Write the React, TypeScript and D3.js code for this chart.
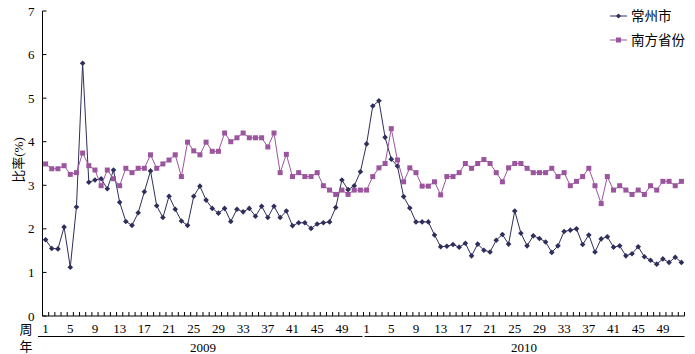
import React from "react";
import * as d3 from "d3";

const years = ["2009", "2010"];
const weekTicks = [1, 5, 9, 13, 17, 21, 25, 29, 33, 37, 41, 45, 49];
const yTicks = [0, 1, 2, 3, 4, 5, 6, 7];
const seriesNames = ["常州市", "南方省份"];

const changzhou2009 = [1.75, 1.55, 1.54, 2.04, 1.12, 2.5, 5.8, 3.07, 3.12, 3.15, 2.92, 3.35, 2.61, 2.17, 2.08, 2.37, 2.85, 3.33, 2.53, 2.26, 2.75, 2.45, 2.18, 2.08, 2.75, 2.98, 2.66, 2.47, 2.36, 2.47, 2.17, 2.45, 2.39, 2.47, 2.29, 2.52, 2.26, 2.52, 2.26, 2.41, 2.07, 2.14, 2.14, 2.01, 2.11, 2.14, 2.16, 2.49, 3.12, 2.9, 2.99, 3.31];
const changzhou2010 = [3.95, 4.82, 4.94, 4.1, 3.6, 3.44, 2.74, 2.48, 2.16, 2.16, 2.16, 1.86, 1.59, 1.6, 1.64, 1.58, 1.67, 1.38, 1.65, 1.51, 1.47, 1.74, 1.87, 1.65, 2.41, 1.9, 1.61, 1.84, 1.78, 1.7, 1.46, 1.61, 1.94, 1.97, 2.0, 1.64, 1.86, 1.47, 1.77, 1.82, 1.58, 1.61, 1.38, 1.43, 1.59, 1.36, 1.28, 1.19, 1.31, 1.23, 1.35, 1.23];
const south2009 = [3.49, 3.38, 3.38, 3.45, 3.25, 3.29, 3.74, 3.45, 3.35, 2.99, 3.35, 3.15, 2.99, 3.39, 3.29, 3.39, 3.39, 3.7, 3.39, 3.49, 3.58, 3.7, 3.2, 3.99, 3.79, 3.7, 3.99, 3.78, 3.78, 4.2, 4.0, 4.09, 4.2, 4.09, 4.09, 4.09, 3.88, 4.2, 3.29, 3.71, 3.2, 3.29, 3.2, 3.2, 3.29, 2.99, 2.89, 2.79, 2.89, 2.79, 2.89, 2.89];
const south2010 = [2.89, 3.2, 3.4, 3.5, 4.3, 3.58, 3.08, 3.4, 3.29, 2.98, 2.98, 3.08, 2.78, 3.2, 3.2, 3.29, 3.5, 3.39, 3.5, 3.59, 3.5, 3.29, 3.08, 3.4, 3.5, 3.5, 3.39, 3.29, 3.29, 3.29, 3.39, 3.2, 3.29, 2.99, 3.09, 3.2, 3.39, 2.99, 2.58, 3.2, 2.89, 2.99, 2.89, 2.79, 2.89, 2.79, 2.99, 2.89, 3.09, 3.09, 2.99, 3.09];

const DARK = "#2E2E5C";
const PURPLE = "#9B559E";
const SERIF = "'Liberation Serif', 'Times New Roman', 'Noto Sans CJK SC', serif";

const W = 695;
const H = 354;
const X0 = 42.5;
const X1 = 684.5;
const Y0 = 316;
const Y1 = 11;

export default function App() {
  const changzhou = [...changzhou2009, ...changzhou2010];
  const south = [...south2009, ...south2010];
  const n = changzhou.length;
  const idx = d3.range(n);
  const x = d3.scalePoint<number>().domain(idx).range([X0, X1]).padding(0.5);
  const step = x.step();
  const y = d3.scaleLinear().domain([0, 7]).range([Y0, Y1]);
  const line = d3
    .line<number>()
    .x((_, i) => x(i) as number)
    .y((d) => y(d));

  const boundaries = d3.range(n + 1).map((i) => X0 + i * step);
  const perYear = changzhou2009.length;

  const diamond = (cx: number, cy: number, r: number) =>
    `M${cx},${cy - r}L${cx + r},${cy}L${cx},${cy + r}L${cx - r},${cy}Z`;

  return (
    <svg
      width={W}
      height={H}
      style={{ position: "absolute", left: 0, top: 0, background: "#fff" }}
      fontFamily={SERIF}
    >
      <rect width={W} height={H} fill="#fff" />
      {/* y axis */}
      <line x1={X0} x2={X0} y1={Y1} y2={Y0} stroke="#000" strokeWidth={1} />
      {yTicks.map((t) => (
        <g key={t}>
          <line x1={X0} x2={X0 + 4} y1={y(t)} y2={y(t)} stroke="#000" />
          <text x={X0 - 8} y={y(t)} dy="0.35em" textAnchor="end" fontSize={13}>
            {t}
          </text>
        </g>
      ))}
      <text
        transform={`translate(18,160) rotate(-90)`}
        textAnchor="middle"
        dy="0.35em"
        fontSize={13}
      >
        比率(%)
      </text>
      {/* x axis */}
      <line x1={X0} x2={X1} y1={Y0} y2={Y0} stroke="#000" />
      {boundaries.map((bx, i) => (
        <line key={i} x1={bx} x2={bx} y1={Y0} y2={Y0 - 4} stroke="#000" />
      ))}
      {years.map((yr, yi) =>
        weekTicks.map((w) => (
          <text
            key={yr + w}
            x={x(yi * perYear + w - 1) as number}
            y={333}
            textAnchor="middle"
            fontSize={13}
          >
            {w}
          </text>
        ))
      )}
      {years.map((yr, yi) => {
        const a = yi === 0 ? 38 : X0 + perYear * step + 1;
        const b = yi === 0 ? X0 + perYear * step - 1 : X1;
        return (
          <g key={yr}>
            <line x1={a} x2={b} y1={336.5} y2={336.5} stroke="#000" />
            <text x={(X0 + yi * perYear * step + X0 + (yi + 1) * perYear * step) / 2} y={352} textAnchor="middle" fontSize={13}>
              {yr}
            </text>
          </g>
        );
      })}
      <text x={26} y={334} textAnchor="middle" fontSize={13}>周</text>
      <text x={26} y={351} textAnchor="middle" fontSize={13}>年</text>

      {/* series */}
      <path d={line(changzhou) || ""} fill="none" stroke={DARK} strokeWidth={1} />
      {changzhou.map((v, i) => (
        <path key={"c" + i} d={diamond(x(i) as number, y(v), 2.8)} fill={DARK} />
      ))}
      <path d={line(south) || ""} fill="none" stroke={PURPLE} strokeWidth={1} />
      {south.map((v, i) => (
        <rect key={"s" + i} x={(x(i) as number) - 2.5} y={y(v) - 2.5} width={5} height={5} fill={PURPLE} />
      ))}

      {/* legend */}
      <line x1={610} x2={627} y1={16} y2={16} stroke={DARK} />
      <path d={diamond(618.5, 16, 2.5)} fill={DARK} />
      <text x={631} y={16} dy="0.35em" fontSize={13.5}>{seriesNames[0]}</text>
      <line x1={610} x2={627} y1={40} y2={40} stroke={PURPLE} />
      <rect x={616} y={37.5} width={5} height={5} fill={PURPLE} />
      <text x={631} y={40} dy="0.35em" fontSize={13.5}>{seriesNames[1]}</text>
    </svg>
  );
}
